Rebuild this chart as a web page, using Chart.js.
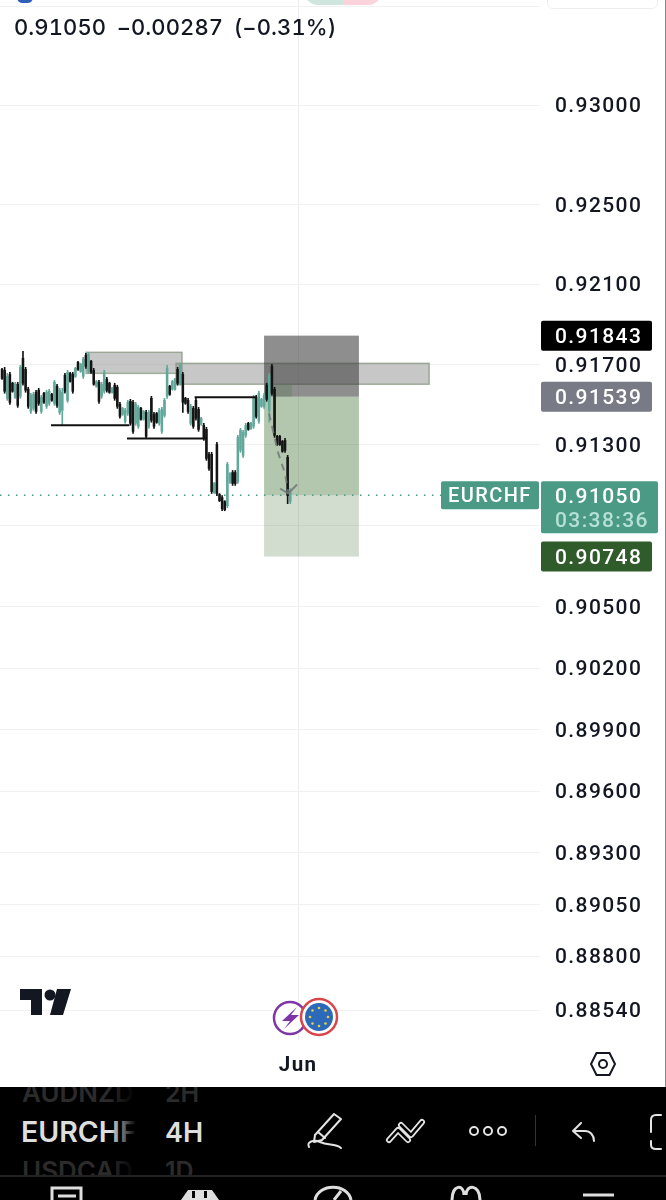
<!DOCTYPE html>
<html>
<head>
<meta charset="utf-8">
<title>EURCHF</title>
<script src="https://cdn.jsdelivr.net/npm/chart.js@4"></script>
<style>
  html, body { margin: 0; padding: 0; background: #fff; }
  #page { position: relative; width: 666px; height: 1200px; overflow: hidden; font-family: Inter, sans-serif; }
  #wrap { position: absolute; left: 0; top: 0; width: 666px; height: 1087px; }
  #quote { position: absolute; left: 14px; top: 14px; font-size: 22px; font-weight: 500; color: #131722; white-space: pre; font-variant-numeric: tabular-nums; letter-spacing: .1px; word-spacing: 4.5px; }
  .abs { position: absolute; }
  #bar { position: absolute; left: 0; top: 0; }
</style>
</head>
<body>
<div id="page">
  <div id="wrap"><canvas id="EurChf" width="666" height="1087"></canvas></div>

  <div class="abs" style="left:17px;top:-8px;width:16px;height:11px;border-radius:8px;background:#2f5fb8"></div>
  <div class="abs" style="left:305px;top:-20px;width:38px;height:25px;border-radius:14px 0 0 14px;background:#cfe6df"></div>
  <div class="abs" style="left:343px;top:-20px;width:38px;height:25px;border-radius:0 14px 14px 0;background:#fbd3dd"></div>
  <div class="abs" style="left:547px;top:-20px;width:109px;height:27px;border:1px solid #eee;border-radius:6px;background:#fff"></div>
  <div id="quote">0.91050 −0.00287 (−0.31%)</div>

  <svg class="abs" style="left:20px;top:989px" width="52" height="27" viewBox="0 0 52 27">
    <path d="M0 0H22V26H11V11H0Z M37 0H51L43 26H30Z" fill="#131722"/>
    <circle cx="30" cy="6" r="5.5" fill="#131722"/>
  </svg>

  <svg class="abs" style="left:268px;top:995px" width="72" height="46" viewBox="0 0 72 46">
    <circle cx="22" cy="23" r="16" fill="#fff" stroke="#7d35a8" stroke-width="2.5"/>
    <path d="M29 12L14 26H22L16 34L31 20H23Z" fill="#7d35a8"/>
    <circle cx="51" cy="22" r="18" fill="#fff" stroke="#d9464a" stroke-width="2.5"/>
    <circle cx="51" cy="22" r="14" fill="#2c69b8"/>
    <g fill="#e8cf4a">
      <circle cx="51" cy="13" r="1.3"/><circle cx="57.5" cy="15.5" r="1.3"/><circle cx="60" cy="22" r="1.3"/>
      <circle cx="57.5" cy="28.5" r="1.3"/><circle cx="51" cy="31" r="1.3"/><circle cx="44.5" cy="28.5" r="1.3"/>
      <circle cx="42" cy="22" r="1.3"/><circle cx="44.5" cy="15.5" r="1.3"/>
    </g>
  </svg>

  <svg class="abs" style="left:588px;top:1049px" width="30" height="30" viewBox="0 0 30 30">
    <path d="M8.5 4H21.5L27 15L21.5 26H8.5L3 15Z" fill="none" stroke="#131722" stroke-width="2"/>
    <circle cx="15" cy="15" r="4" fill="none" stroke="#131722" stroke-width="2"/>
  </svg>

  <div class="abs" style="left:665px;top:0;width:1px;height:1087px;background:#8a8a8a"></div>

  <svg id="bar" style="top:1087px" width="666" height="113" viewBox="0 0 666 113" font-family="Inter, sans-serif">
    <defs>
      <linearGradient id="fade" x1="0" x2="1" y1="0" y2="0">
        <stop offset="0" stop-color="#000" stop-opacity="0"/>
        <stop offset="1" stop-color="#000" stop-opacity="1"/>
      </linearGradient>
    </defs>
    <rect width="666" height="113" fill="#000"/>
    <text x="22" y="15" font-size="26" font-weight="600" fill="#2b2b2b">AUDNZD</text>
    <text x="165" y="15" font-size="25" font-weight="600" fill="#2b2b2b">2H</text>
    <text x="21" y="55" font-size="28.5" font-weight="600" fill="#dedede">EURCHF</text>
    <text x="165" y="55" font-size="27" font-weight="600" fill="#dedede">4H</text>
    <text x="22" y="93" font-size="26" font-weight="600" fill="#2b2b2b">USDCAD</text>
    <text x="165" y="93" font-size="25" font-weight="600" fill="#2b2b2b">1D</text>
    <rect x="110" y="0" width="26" height="88" fill="url(#fade)"/>
    <rect x="135" y="0" width="27" height="88" fill="#000"/>
    <rect x="0" y="88" width="666" height="25" fill="#000"/>
    <rect x="0" y="88" width="666" height="2" fill="#222"/>

    <g fill="none" stroke="#e4e4e4" stroke-width="2" stroke-linecap="round" stroke-linejoin="round">
      <path d="M334 27L341 32L322 53L314 55L315 48Z M318 45L325 51"/>
      <path d="M309 60C306 55 314 52 320 55C328 59 335 56 341 61"/>
      <circle cx="474" cy="44" r="4"/><circle cx="488" cy="44" r="4"/><circle cx="502" cy="44" r="4"/>
      <path d="M581 36L573 44L581 51M574 44H585C590 44 594 48 594 54"/>
      <path d="M661 28H656Q651 28 651 33V45M651 54V58Q651 62 656 62H661"/>
    </g>
    <g fill="none" stroke-linecap="round" stroke-linejoin="round">
      <path d="M389 53L398 43L408 53M401 38L411 48L422 35" stroke="#e4e4e4" stroke-width="6"/>
      <path d="M389 53L398 43L408 53M401 38L411 48L422 35" stroke="#000" stroke-width="2.5"/>
    </g>
    <rect x="535" y="28" width="1" height="31" fill="#333"/>

    <g fill="none" stroke="#dedede" stroke-width="3">
      <path d="M52 113V101H81V113"/><path d="M58 109H76"/>
      <path d="M315 113C318 96 348 96 351 113"/><path d="M341 104L334 113"/>
      <path d="M452 113C452 97 464 97 464 108M466 108C466 97 480 97 480 113"/>
      <path d="M583 108H614"/>
    </g>
    <path d="M181 113L188 103H212L219 113Z" fill="#dedede"/>
    <rect x="192" y="104" width="3" height="7" fill="#000"/>
    <rect x="204" y="104" width="3" height="7" fill="#000"/>
  </svg>
</div>

<script>
// prices, candle 1 is the one at the left edge
var highs = [0.91680,0.91685,0.91655,0.91660,0.91611,0.91611,0.91611,0.91695,0.91765,0.91685,
  0.91586,0.91556,0.91561,0.91571,0.91581,0.91546,0.91561,0.91571,0.91576,0.91556,
  0.91620,0.91601,0.91581,0.91581,0.91655,0.91670,0.91660,0.91660,0.91685,0.91715,
  0.91705,0.91735,0.91755,0.91760,0.91720,0.91680,0.91620,0.91620,0.91611,0.91670,
  0.91635,0.91611,0.91586,0.91606,0.91596,0.91511,0.91486,0.91481,0.91521,0.91526,
  0.91521,0.91511,0.91496,0.91486,0.91471,0.91471,0.91471,0.91541,0.91461,0.91461,
  0.91481,0.91486,0.91531,0.91695,0.91596,0.91620,0.91630,0.91685,0.91705,0.91660,
  0.91536,0.91531,0.91501,0.91491,0.91531,0.91486,0.91437,0.91407,0.91387,0.91263,
  0.91263,0.91114,0.91312,0.91059,0.91049,0.91024,0.91213,0.91163,0.91173,0.91173,
  0.91347,0.91382,0.91372,0.91407,0.91412,0.91412,0.91546,0.91546,0.91566,0.91531,
  0.91556,0.91606,0.91655,0.91700,0.91586,0.91347,0.91347,0.91322,0.91332,0.91248,0.91084];

var lows = [0.91625,0.91556,0.91521,0.91501,0.91561,0.91531,0.91486,0.91531,0.91596,0.91561,
  0.91481,0.91456,0.91471,0.91456,0.91496,0.91456,0.91506,0.91481,0.91496,0.91516,
  0.91496,0.91486,0.91451,0.91397,0.91556,0.91511,0.91611,0.91556,0.91635,0.91670,
  0.91660,0.91630,0.91680,0.91655,0.91655,0.91596,0.91586,0.91506,0.91531,0.91556,
  0.91561,0.91556,0.91556,0.91521,0.91481,0.91432,0.91446,0.91407,0.91446,0.91397,
  0.91357,0.91397,0.91382,0.91422,0.91422,0.91332,0.91382,0.91412,0.91382,0.91407,
  0.91397,0.91357,0.91437,0.91531,0.91546,0.91571,0.91571,0.91596,0.91596,0.91461,
  0.91501,0.91456,0.91397,0.91382,0.91422,0.91367,0.91397,0.91322,0.91223,0.91173,
  0.91059,0.91059,0.91049,0.91019,0.90974,0.90974,0.90989,0.91109,0.91099,0.91099,
  0.91109,0.91263,0.91238,0.91337,0.91372,0.91377,0.91382,0.91432,0.91407,0.91486,
  0.91481,0.91516,0.91412,0.91546,0.91337,0.91297,0.91297,0.91263,0.91263,0.91009,0.91009];

var opens = [0.91675,0.91670,0.91531,0.91650,0.91606,0.91536,0.91601,0.91541,0.91730,0.91675,
  0.91576,0.91466,0.91481,0.91561,0.91571,0.91466,0.91556,0.91491,0.91506,0.91551,
  0.91506,0.91591,0.91461,0.91471,0.91645,0.91521,0.91655,0.91650,0.91640,0.91710,
  0.91665,0.91640,0.91745,0.91665,0.91715,0.91670,0.91591,0.91611,0.91541,0.91566,
  0.91625,0.91606,0.91561,0.91596,0.91586,0.91501,0.91451,0.91417,0.91456,0.91516,
  0.91511,0.91407,0.91392,0.91481,0.91427,0.91461,0.91392,0.91531,0.91451,0.91456,
  0.91407,0.91367,0.91446,0.91541,0.91591,0.91576,0.91576,0.91675,0.91606,0.91650,
  0.91531,0.91521,0.91407,0.91481,0.91521,0.91476,0.91402,0.91397,0.91377,0.91253,
  0.91253,0.91064,0.91302,0.91054,0.91039,0.91019,0.90999,0.91114,0.91163,0.91163,
  0.91118,0.91273,0.91248,0.91347,0.91407,0.91382,0.91392,0.91536,0.91417,0.91491,
  0.91491,0.91596,0.91471,0.91690,0.91576,0.91342,0.91342,0.91317,0.91322,0.91238,0.91020];

var closes = [0.91630,0.91566,0.91640,0.91511,0.91566,0.91601,0.91496,0.91685,0.91606,0.91571,
  0.91491,0.91546,0.91551,0.91466,0.91506,0.91536,0.91511,0.91561,0.91566,0.91521,
  0.91611,0.91496,0.91571,0.91561,0.91566,0.91660,0.91615,0.91566,0.91680,0.91675,
  0.91700,0.91725,0.91690,0.91750,0.91660,0.91601,0.91615,0.91516,0.91601,0.91660,
  0.91571,0.91561,0.91581,0.91531,0.91491,0.91441,0.91481,0.91471,0.91511,0.91407,
  0.91367,0.91501,0.91486,0.91427,0.91466,0.91342,0.91461,0.91422,0.91392,0.91412,
  0.91471,0.91476,0.91521,0.91680,0.91551,0.91615,0.91625,0.91606,0.91695,0.91511,
  0.91506,0.91466,0.91491,0.91392,0.91432,0.91377,0.91432,0.91332,0.91233,0.91183,
  0.91069,0.91109,0.91059,0.91024,0.90984,0.90979,0.91203,0.91158,0.91109,0.91109,
  0.91337,0.91372,0.91362,0.91397,0.91377,0.91407,0.91536,0.91441,0.91556,0.91526,
  0.91546,0.91526,0.91645,0.91556,0.91347,0.91302,0.91302,0.91268,0.91273,0.91049,0.91074];

var upColor = "#62a89a";
var downColor = "#141414";

// price axis, the blank ones are hidden behind the header and the price tag
var tickPrices = [0.93500,0.93000,0.92500,0.92100,0.91700,0.91300,0.90900,0.90500,0.90200,0.89900,0.89600,0.89300,0.89050,0.88800,0.88540];
var tickLabels = ["","0.93000","0.92500","0.92100","0.91700","0.91300","","0.90500","0.90200","0.89900","0.89600","0.89300","0.89050","0.88800","0.88540"];
var monthIndex = [114];
var monthLabels = ["Jun"];

// drawings: [from candle, to candle, top price, bottom price]
var zones = [
  [33.05, 69.7, 0.91760, 0.91655],
  [67.4, 164, 0.91705, 0.91601]
];
var stopBox = [101, 137.2, 0.91843, 0.91539];
var profitNear = [101, 137.2, 0.91539, 0.91050];
var profitFar = [101, 137.2, 0.91050, 0.90748];
var entryBox = [101, 111.7, 0.91600, 0.91539];

var levelLines = [
  [[19.7, 0.91397], [49.6, 0.91397]],
  [[48.7, 0.91332], [79.2, 0.91332]],
  [[74.5, 0.91536], [98, 0.91536]]
];
var pathLine = [[102.9, 0.91456], [106.3, 0.91263], [109, 0.91158], [110.2, 0.91064]];
var pathHead = [[107.1, 0.91084], [110.2, 0.91059], [113.6, 0.91104]];
var lastPrice = 0.91050;

// tags on the price axis
var tagPrices = [0.91843, 0.91539, 0.90748];
var tagTexts = ["0.91843", "0.91539", "0.90748"];
var tagColors = ["#000000", "#787b86", "#2f5c2a"];

var candleIndex = highs.map(function (h, i) { return i + 1; });

function asXY(list) {
  return list.map(function (p) { return { x: p[0], y: p[1] }; });
}

function flatLine(points, color, width, dash) {
  return {
    type: "line",
    data: asXY(points),
    borderColor: color,
    borderWidth: width,
    borderDash: dash || [],
    pointRadius: 0,
    tension: 0,
    fill: false
  };
}

var drawingsPlugin = {
  id: "drawings",
  beforeDraw: function (chart) {
    // the app's digits are wider than Roboto's
    chart.ctx.letterSpacing = "1.4px";
  },
  beforeDatasetsDraw: function (chart) {
    var ctx = chart.ctx, sx = chart.scales.x, sy = chart.scales.y;
    function box(b, fill, stroke) {
      var x0 = sx.getPixelForValue(b[0]), x1 = sx.getPixelForValue(b[1]);
      var y0 = sy.getPixelForValue(b[2]), y1 = sy.getPixelForValue(b[3]);
      ctx.fillStyle = fill;
      ctx.fillRect(x0, y0, x1 - x0, y1 - y0);
      if (stroke) {
        ctx.strokeStyle = stroke;
        ctx.lineWidth = 1.5;
        ctx.strokeRect(x0, y0, x1 - x0, y1 - y0);
      }
    }
    zones.forEach(function (z) {
      box(z, "rgba(135,135,135,0.47)", "rgba(130,148,125,0.7)");
    });
    box(stopBox, "rgba(60,60,60,0.58)");
    box(profitNear, "rgba(60,110,50,0.39)");
    box(profitFar, "rgba(60,110,50,0.23)");
    box(entryBox, "rgba(90,125,90,0.32)");
  },
  afterDraw: function (chart) {
    var ctx = chart.ctx, sy = chart.scales.y;
    ctx.save();
    ctx.font = "500 21px Roboto, sans-serif";
    ctx.textBaseline = "middle";
    ctx.textAlign = "left";
    tagPrices.forEach(function (p, i) {
      var y = sy.getPixelForValue(p);
      ctx.fillStyle = tagColors[i];
      ctx.beginPath();
      ctx.roundRect(541, y - 15, 111, 30, 2);
      ctx.fill();
      ctx.fillStyle = "#ffffff";
      ctx.fillText(tagTexts[i], 555, y + 2);
    });
    var y = sy.getPixelForValue(lastPrice);
    ctx.fillStyle = "#4a9a86";
    ctx.beginPath();
    ctx.roundRect(441, y - 14, 98, 28, 2);
    ctx.fill();
    ctx.beginPath();
    ctx.roundRect(541, y - 14, 117, 52, 2);
    ctx.fill();
    ctx.fillStyle = "#ffffff";
    ctx.fillText(lastPrice.toFixed(5), 555, y + 2);
    ctx.fillStyle = "#b5e0d4";
    ctx.fillText("03:38:36", 555, y + 26);
    ctx.fillStyle = "#ffffff";
    ctx.font = "500 20px Roboto, sans-serif";
    ctx.fillText("EURCHF", 448, y + 2);
    ctx.restore();
  }
};

var wickData = candleIndex.map(function (c, i) { return { x: c, y: [lows[i], highs[i]] }; });
var bodyData = candleIndex.map(function (c, i) { return { x: c, y: [opens[i], closes[i]] }; });
var candleColors = candleIndex.map(function (c, i) { return closes[i] >= opens[i] ? upColor : downColor; });

var lineSets = levelLines.map(function (l) { return flatLine(l, "#111111", 2); });

new Chart("EurChf", {
  type: "bar",
  data: {
    datasets: [
      flatLine(pathHead, "rgba(115,120,120,0.85)", 2),
      flatLine(pathLine, "rgba(115,120,120,0.85)", 2, [7, 6])
    ].concat(lineSets, [
      { data: bodyData, backgroundColor: candleColors, barThickness: 1.9, grouped: false },
      { data: wickData, backgroundColor: candleColors, barThickness: 1, grouped: false },
      flatLine([[0.23, lastPrice], [206.3, lastPrice]], "#4a9a86", 1.5, [1.5, 6.5])
    ])
  },
  plugins: [drawingsPlugin],
  options: {
    responsive: false,
    animation: false,
    layout: { padding: 0 },
    plugins: { legend: { display: false }, tooltip: { enabled: false } },
    scales: {
      x: {
        type: "linear",
        offset: false,
        min: 0.23,
        max: 206.3,
        grid: { offset: false, color: "#ececec", drawTicks: false },
        border: { display: false },
        ticks: {
          autoSkip: false,
          maxRotation: 0,
          padding: 14,
          color: "#131722",
          font: { family: "Roboto, sans-serif", size: 20.5, weight: "700" },
          callback: function (v) {
            return monthLabels[monthIndex.indexOf(v)] || "";
          }
        },
        afterBuildTicks: function (s) {
          s.ticks = monthIndex.map(function (v) { return { value: v }; });
        },
        afterFit: function (s) {
          s.height = 47;
          s.paddingLeft = 0;
          s.paddingRight = 0;
        }
      },
      y: {
        type: "logarithmic",
        position: "right",
        min: 0.88397,
        max: 0.93532,
        grid: { color: "#f1f1f1", drawTicks: false },
        border: { display: false },
        ticks: {
          autoSkip: false,
          padding: 15,
          labelOffset: 2,
          color: "#131722",
          font: { family: "Roboto, sans-serif", size: 21, weight: "500" },
          callback: function (v) {
            return tickLabels[tickPrices.indexOf(v)] || "";
          }
        },
        afterBuildTicks: function (s) {
          s.ticks = tickPrices.map(function (v) { return { value: v }; });
        },
        afterFit: function (s) {
          s.width = 126;
          s.paddingTop = 0;
          s.paddingBottom = 0;
        }
      }
    }
  }
});
</script>
</body>
</html>
